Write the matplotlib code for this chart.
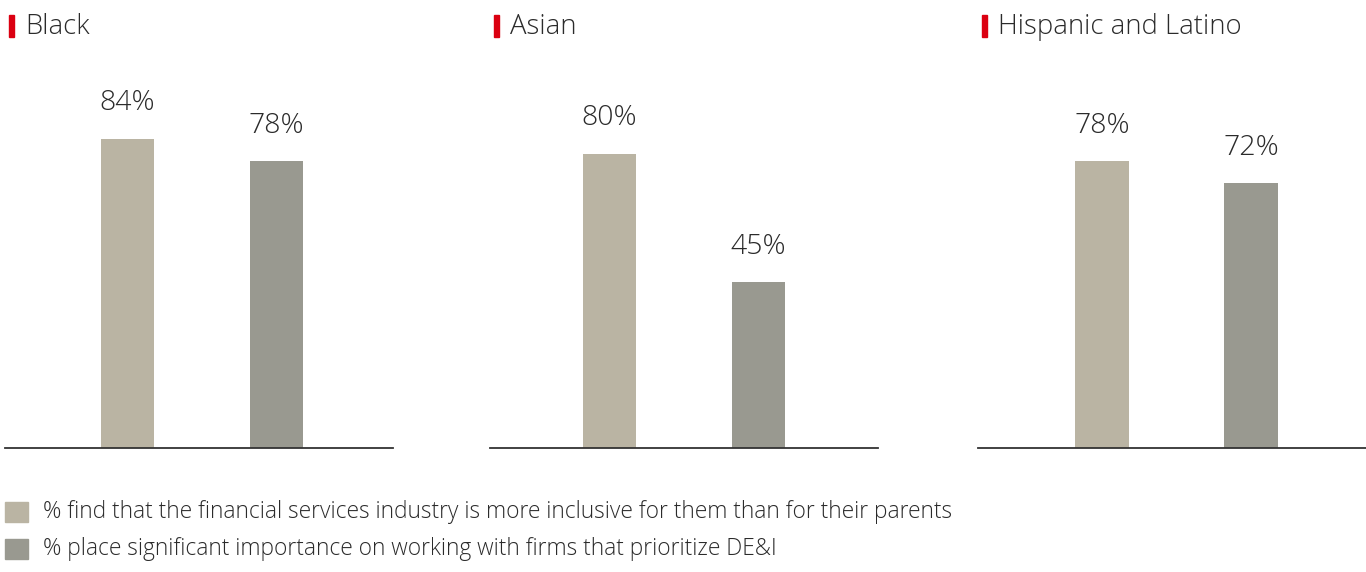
import numpy as np
import matplotlib.pyplot as plt
from matplotlib.patches import Rectangle

# Data
groups = ["Black", "Asian", "Hispanic and Latino"]
more_inclusive = [84, 80, 78]
prioritize_dei = [78, 45, 72]
legend_labels = [
    "% find that the financial services industry is more inclusive for them than for their parents",
    "% place significant importance on working with firms that prioritize DE&I",
]

c1 = "#BAB4A3"
c2 = "#999990"
red = "#DB0011"
txt = "#2b2b2b"

plt.rcParams['font.family'] = ['Open Sans', 'DejaVu Sans']
plt.rcParams['font.weight'] = 'light'

W, H = 1366, 572
fig = plt.figure(figsize=(W / 100, H / 100), dpi=100)

lefts = [5, 490, 978]
xl = [(-0.82, 1.78), (-0.80, 1.80), (-0.83, 1.77)]
for i, g in enumerate(groups):
    ax = fig.add_axes([lefts[i] / W, 1 - 448 / H, 388 / W, 368 / H])
    vals = [more_inclusive[i], prioritize_dei[i]]
    bars = ax.bar([0, 1], vals, width=0.36, color=[c1, c2])
    for b, v in zip(bars, vals):
        ax.annotate(f"{v}%", (b.get_x() + b.get_width() / 2, v),
                    xytext=(0, 25.5), textcoords="offset points",
                    ha="center", va="center", fontsize=20.5, color=txt)
    ax.set_xlim(*xl[i])
    ax.set_ylim(0, 100)
    for s in ["top", "right", "left"]:
        ax.spines[s].set_visible(False)
    ax.spines["bottom"].set_color("#333333")
    ax.spines["bottom"].set_linewidth(1.3)
    ax.set_xticks([])
    ax.set_yticks([])
    # title with red marker
    fig.patches.append(Rectangle(((lefts[i] + 4) / W, 1 - 37 / H), 5 / W, 22 / H,
                                 transform=fig.transFigure, color=red))
    fig.text((lefts[i] + 20) / W, 1 - 27 / H, g, ha="left", va="center",
             fontsize=19.8, color=txt)

# legend
ys = [512, 549]
for y, lab, c in zip(ys, legend_labels, [c1, c2]):
    fig.patches.append(Rectangle((5 / W, 1 - (y + 10) / H), 23 / W, 20 / H,
                                 transform=fig.transFigure, color=c))
    fig.text(43 / W, 1 - y / H, lab, ha="left", va="center", fontsize=16.4, color=txt)

fig.savefig("out.png", dpi=100)
